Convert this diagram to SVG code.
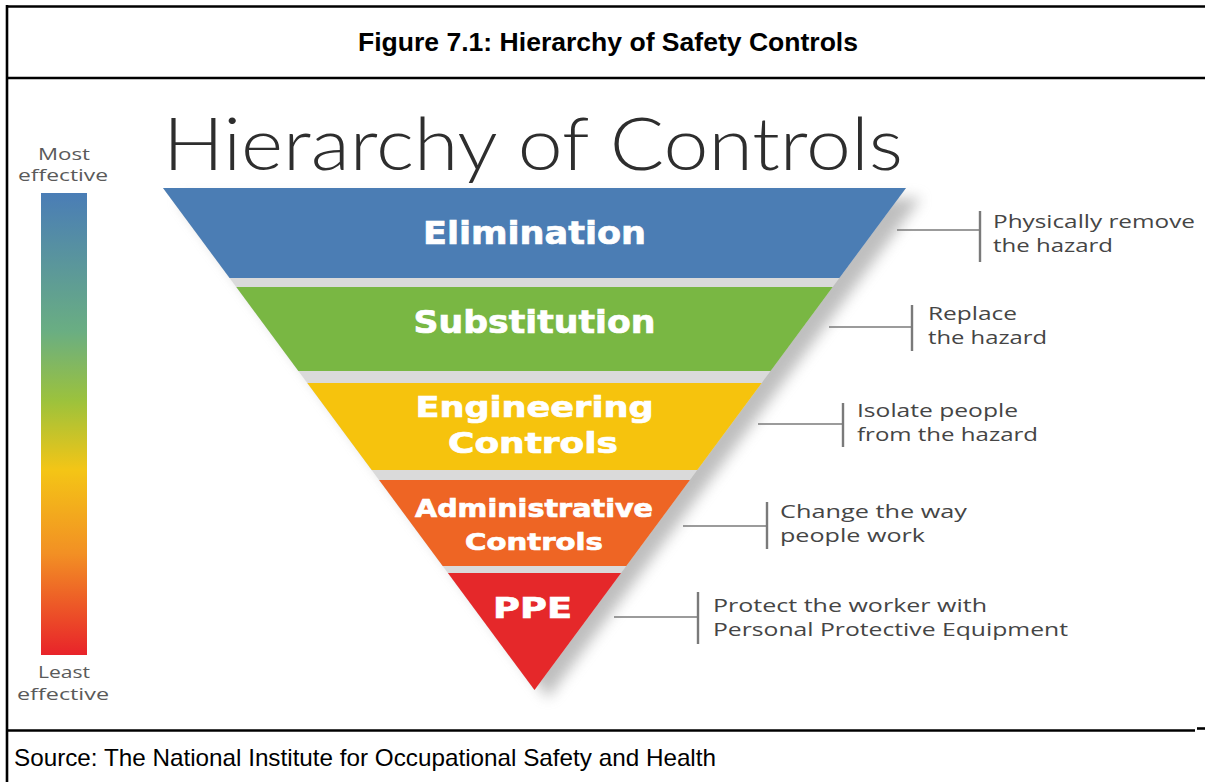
<svg xmlns="http://www.w3.org/2000/svg" width="1205" height="782" viewBox="0 0 1205 782">
  <defs>
    <linearGradient id="effGrad" x1="0" y1="0" x2="0" y2="1">
      <stop offset="0" stop-color="#4a7db6"/>
      <stop offset="0.3" stop-color="#6aae82"/>
      <stop offset="0.45" stop-color="#9cc23c"/>
      <stop offset="0.6" stop-color="#f4c516"/>
      <stop offset="0.78" stop-color="#f29024"/>
      <stop offset="1" stop-color="#e8232a"/>
    </linearGradient>
    <filter id="blur" x="-10%" y="-10%" width="120%" height="120%">
      <feGaussianBlur stdDeviation="7"/>
    </filter>
  </defs>
  <style>
    .frame { stroke: #000; stroke-width: 2.6; fill: none; }
    .band-label { font-family: "DejaVu Sans", "Liberation Sans", sans-serif; font-weight: bold; fill: #ffffff; stroke: #ffffff; stroke-width: 0.7; text-anchor: middle; }
    .note { font-family: "Open Sans", Lato, "DejaVu Sans", sans-serif; font-size: 19px; fill: #454545; }
    .eff { font-family: "Open Sans", Lato, "DejaVu Sans", sans-serif; font-size: 16px; fill: #5a5a5a; text-anchor: middle; }
    .conn { stroke: #7a7a7a; stroke-width: 1.6; fill: none; }
    .bar { stroke: #7a7a7a; stroke-width: 2.4; fill: none; }
  </style>

  <rect width="1205" height="782" fill="#ffffff"/>

  <g id="frame">
    <line class="frame" x1="7" y1="6.5" x2="1205" y2="6.5"/>
    <line class="frame" x1="7" y1="5" x2="7" y2="782"/>
    <line class="frame" x1="7" y1="78" x2="1205" y2="78"/>
    <line class="frame" x1="7" y1="730.5" x2="1195" y2="730.5"/>
    <line class="frame" x1="1197" y1="728.5" x2="1205" y2="728.5"/>
  </g>

  <g id="header">
    <text x="608" y="51" font-family="Liberation Sans, Arial, sans-serif" font-weight="bold" font-size="25" text-anchor="middle" fill="#000" textLength="500" lengthAdjust="spacingAndGlyphs">Figure 7.1: Hierarchy of Safety Controls</text>
  </g>

  <g id="scale">
    <text class="eff" x="64" y="160" textLength="52" lengthAdjust="spacingAndGlyphs">Most</text>
    <text class="eff" x="63" y="181" textLength="90" lengthAdjust="spacingAndGlyphs">effective</text>
    <rect x="41" y="193" width="46" height="462" fill="url(#effGrad)"/>
    <text class="eff" x="64" y="678" textLength="52" lengthAdjust="spacingAndGlyphs">Least</text>
    <text class="eff" x="63" y="700" textLength="92" lengthAdjust="spacingAndGlyphs">effective</text>
  </g>

  <g id="title">
    <text x="163" y="170" font-family="Lato, 'Open Sans', 'DejaVu Sans', sans-serif" font-weight="300" font-size="72" fill="#2e2e2e" textLength="740" lengthAdjust="spacingAndGlyphs">Hierarchy of Controls</text>
  </g>

  <g id="pyramid-base">
    <polygon points="178,198 921,198 548,698" fill="#8a8a8a" opacity="0.55" filter="url(#blur)"/>
    <polygon points="163,188 906,188 534.5,690" fill="#dadada"/>
  </g>

  <g id="node-elimination">
    <polygon points="163,188 906,188 839.4,278 229.6,278" fill="#4b7db4"/>
    <text class="band-label" x="534.5" y="244" font-size="32" textLength="223" lengthAdjust="spacingAndGlyphs">Elimination</text>
    <text class="note" x="993" y="228" textLength="202" lengthAdjust="spacingAndGlyphs">Physically remove</text>
    <text class="note" x="993" y="252" textLength="120" lengthAdjust="spacingAndGlyphs">the hazard</text>
  </g>

  <g id="node-substitution">
    <polygon points="236.3,287 832.7,287 770.6,371 298.4,371" fill="#79b743"/>
    <text class="band-label" x="534.5" y="333" font-size="32" textLength="242" lengthAdjust="spacingAndGlyphs">Substitution</text>
    <text class="note" x="928" y="320" textLength="89" lengthAdjust="spacingAndGlyphs">Replace</text>
    <text class="note" x="928" y="344" textLength="119" lengthAdjust="spacingAndGlyphs">the hazard</text>
  </g>

  <g id="node-engineering">
    <polygon points="307.3,383 761.7,383 697.3,470 371.7,470" fill="#f6c30d"/>
    <text class="band-label" x="534.5" y="417" font-size="28" textLength="238" lengthAdjust="spacingAndGlyphs">Engineering</text>
    <text class="band-label" x="533" y="453" font-size="28" textLength="170" lengthAdjust="spacingAndGlyphs">Controls</text>
    <text class="note" x="857" y="417" textLength="161" lengthAdjust="spacingAndGlyphs">Isolate people</text>
    <text class="note" x="857" y="441" textLength="181" lengthAdjust="spacingAndGlyphs">from the hazard</text>
  </g>

  <g id="node-administrative">
    <polygon points="379.1,480 689.9,480 626.3,566 442.7,566" fill="#ee6524"/>
    <text class="band-label" x="534" y="517" font-size="24" textLength="238" lengthAdjust="spacingAndGlyphs">Administrative</text>
    <text class="band-label" x="534" y="550" font-size="23" textLength="138" lengthAdjust="spacingAndGlyphs">Controls</text>
    <text class="note" x="780" y="518" textLength="187" lengthAdjust="spacingAndGlyphs">Change the way</text>
    <text class="note" x="780" y="542" textLength="145" lengthAdjust="spacingAndGlyphs">people work</text>
  </g>

  <g id="node-ppe">
    <polygon points="447.9,573 621.1,573 534.5,690" fill="#e5282a"/>
    <text class="band-label" x="532.5" y="618" font-size="29" textLength="79" lengthAdjust="spacingAndGlyphs">PPE</text>
    <text class="note" x="713" y="612" textLength="274" lengthAdjust="spacingAndGlyphs">Protect the worker with</text>
    <text class="note" x="713" y="636" textLength="355" lengthAdjust="spacingAndGlyphs">Personal Protective Equipment</text>
  </g>

  <g id="connectors">
    <line class="conn" x1="897" y1="230" x2="980" y2="230"/>
    <line class="bar" x1="980" y1="211" x2="980" y2="262"/>
    <line class="conn" x1="829" y1="327" x2="912" y2="327"/>
    <line class="bar" x1="912" y1="305" x2="912" y2="351"/>
    <line class="conn" x1="758" y1="424" x2="843" y2="424"/>
    <line class="bar" x1="843" y1="403" x2="843" y2="447"/>
    <line class="conn" x1="683" y1="526" x2="767" y2="526"/>
    <line class="bar" x1="767" y1="502" x2="767" y2="549"/>
    <line class="conn" x1="614" y1="617" x2="698" y2="617"/>
    <line class="bar" x1="698" y1="592" x2="698" y2="644"/>
  </g>

  <g id="footer">
    <text x="14" y="766" font-family="Liberation Sans, Arial, sans-serif" font-size="24" fill="#000" textLength="702" lengthAdjust="spacingAndGlyphs">Source: The National Institute for Occupational Safety and Health</text>
  </g>
</svg>
